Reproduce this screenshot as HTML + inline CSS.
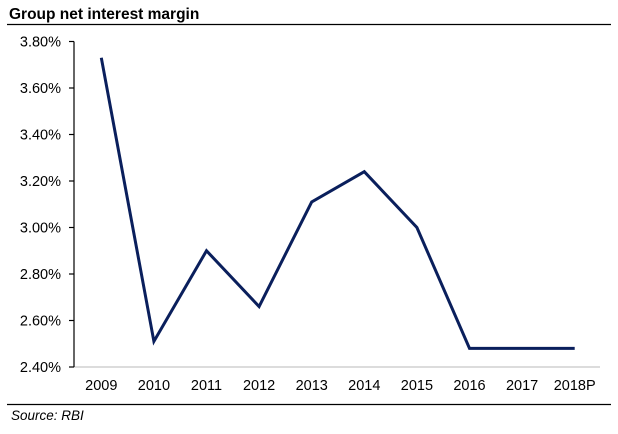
<!DOCTYPE html>
<html><head><meta charset="utf-8"><style>
body{margin:0;background:#fff;width:618px;height:429px;overflow:hidden;font-family:"Liberation Sans",Arial,sans-serif}
</style></head><body>
<svg width="618" height="429" xmlns="http://www.w3.org/2000/svg">
<text x="9" y="19" font-size="15.5" font-weight="bold" fill="#000">Group net interest margin</text>
<line x1="7" y1="24.5" x2="611" y2="24.5" stroke="#000" stroke-width="1.2"/>
<line x1="7" y1="404.5" x2="611" y2="404.5" stroke="#000" stroke-width="1.2"/>
<text x="11" y="420" font-size="13.5" font-style="italic" fill="#000">Source: RBI</text>
<g id="axes"></g>
<g id="series"></g>
</svg>
<script>
const categories=["2009","2010","2011","2012","2013","2014","2015","2016","2017","2018P"];
const nimValues=[3.73,2.51,2.90,2.66,3.11,3.24,3.00,2.48,2.48,2.48];
const yTicks=[2.4,2.6,2.8,3.0,3.2,3.4,3.6,3.8];
const NS="http://www.w3.org/2000/svg";
const x0=74,x1=600,yTop=41.5,yBot=367,vMin=2.4,vMax=3.8;
const y=v=>yBot-(v-vMin)/(vMax-vMin)*(yBot-yTop);
const step=(x1-x0)/categories.length;
const x=i=>x0+step*(i+0.5)+1;
const axes=document.getElementById('axes'),series=document.getElementById('series');
function mk(t,a,p){const e=document.createElementNS(NS,t);for(const k in a)e.setAttribute(k,a[k]);p.appendChild(e);return e;}
let xl=mk('line',{x1:x0,y1:yBot,x2:x1,y2:yBot,stroke:'#d0d0d0','stroke-width':1.5},axes);


let yl=mk('line',{x1:x0,y1:yTop,x2:x0,y2:yBot,stroke:'#000','stroke-width':1.2},axes);


yTicks.forEach(v=>{
 const tk=mk('line',{x1:x0-5,y1:y(v),x2:x0,y2:y(v),stroke:'#000','stroke-width':1.2},axes);
 
 
 const t=mk('text',{x:x0-13,y:y(v)+5,'font-size':14.5,'text-anchor':'end',fill:'#000'},axes);
 t.textContent=v.toFixed(2)+'%';
 
 
});
categories.forEach((c,i)=>{
 const t=mk('text',{x:x(i),y:yBot+23,'font-size':14.5,'text-anchor':'middle',fill:'#000'},axes);
 t.textContent=c;
 
 
});
const pl=mk('polyline',{points:nimValues.map((v,i)=>x(i)+','+y(v)).join(' '),fill:'none',stroke:'#0a1f5c','stroke-width':3,'stroke-linejoin':'miter'},series);


</script>
</body></html>
